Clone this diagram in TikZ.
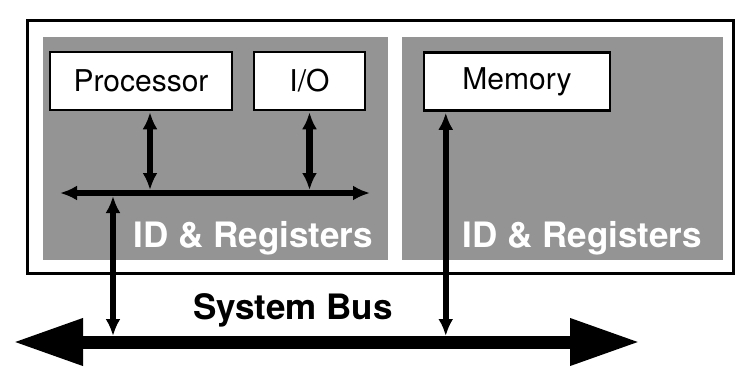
\documentclass[tikz,border=0pt]{standalone}
\usepackage{fontspec}
\setmainfont{TeX Gyre Heros}
\usetikzlibrary{arrows.meta,positioning}
\definecolor{panelgray}{RGB}{148,148,148}

\begin{document}
\begin{tikzpicture}[x=1pt,y=-1pt]
		\tikzstyle{unit}=[draw=black, line width=2.5pt, fill=white, minimum height=58pt, inner sep=0pt, font=\fontsize{30}{36}\selectfont]
		\tikzstyle{link}=[{Latex[length=17pt,width=15pt]}-{Latex[length=17pt,width=15pt]}, line width=6.5pt]
		\tikzstyle{regtext}=[text=white, font=\fontsize{35}{42}\selectfont\bfseries, anchor=base east, inner sep=0pt]
		\tikzstyle{bus}=[{Triangle[length=70pt,width=44pt]}-{Triangle[length=70pt,width=44pt]}, line width=13pt]
		\useasboundingbox (0,0) rectangle (741,368);
		
		\draw[line width=3pt] (27,20) rectangle (733,273);
		\fill[panelgray] (43,37) rectangle (388,260);
		\fill[panelgray] (402,37) rectangle (723,260);
		
		\node[unit, minimum width=182pt] (proc) at (141,81) {Processor};
		\node[unit, minimum width=111pt] (io) at (309.5,81) {I/O};
		\node[unit, minimum width=186pt] (mem) at (517,81.5) {Memory};
		
		\node[regtext] (regL) at (373,247) {ID \& Registers};
		\node[regtext] (regR) at (702,247) {ID \& Registers};
		\node[font=\fontsize{35}{42}\selectfont\bfseries, anchor=base, inner sep=0pt] (sysbus) at (293,319) {System Bus};
		
		\coordinate (ibusL) at (60,193);
		\coordinate (ibusR) at (370,193);
		\coordinate (tap) at (113,193);
		\coordinate (sbusL) at (13,342);
		\coordinate (sbusR) at (640,342);
		
		\draw[link] (ibusL) -- (ibusR);
		\draw[link, shorten <=1pt, shorten >=3pt] ([xshift=9pt]proc.south) -- ([xshift=9pt]proc.south |- ibusL);
		\draw[link, shorten <=1pt, shorten >=3pt] (io.south) -- (io.south |- ibusL);
		\draw[link, shorten <=3pt, shorten >=6pt] (tap) -- (tap |- sbusL);
		\draw[link, shorten <=1pt, shorten >=6pt] ([xshift=23pt]mem.south west) -- ([xshift=23pt]mem.south west |- sbusL);
		
		\draw[bus] (sbusL) -- (sbusR);
	\end{tikzpicture}
\end{document}
